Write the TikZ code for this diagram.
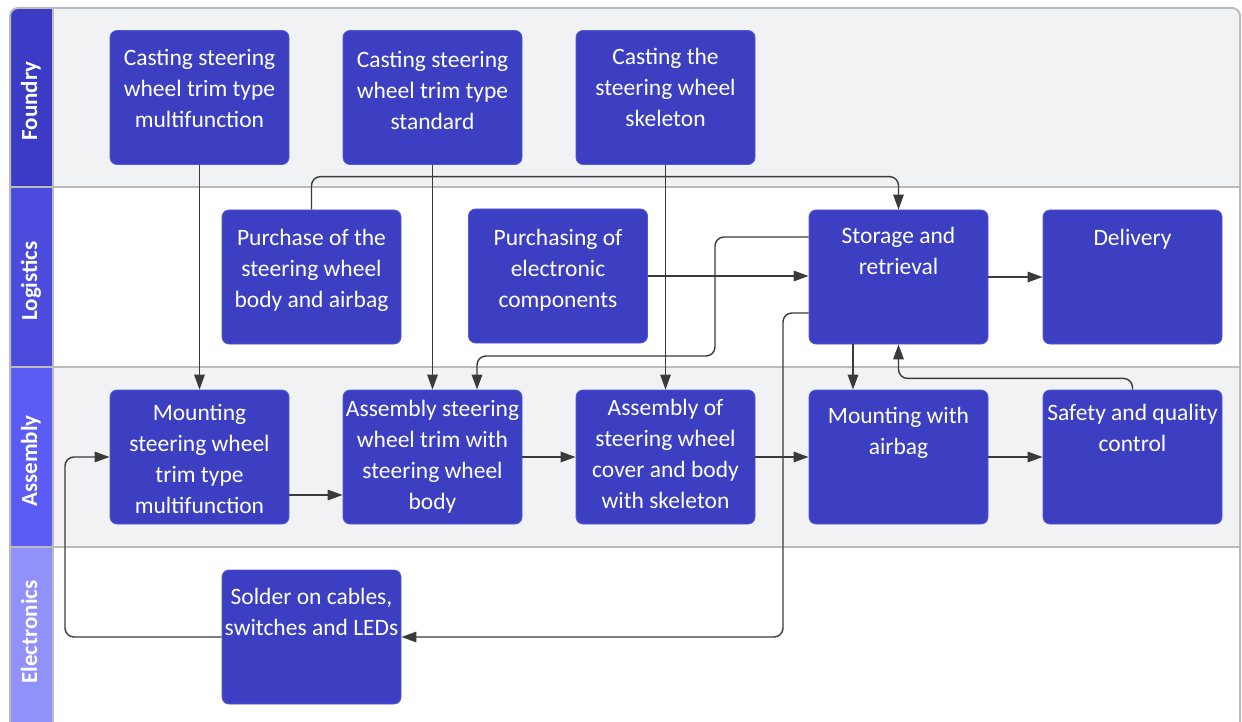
\documentclass[tikz,border=0pt]{standalone}
\usepackage{fontspec}
\setmainfont{Carlito}
\usetikzlibrary{arrows.meta}

\definecolor{stepfill}{HTML}{3C3FC1}
\definecolor{stepedge}{HTML}{5457D6}
\definecolor{lanegrey}{HTML}{F1F2F4}
\definecolor{rulegrey}{HTML}{BBBBBB}
\definecolor{flowgrey}{HTML}{3A3A3A}
\definecolor{hdFoundry}{HTML}{3B3BC6}
\definecolor{hdLogistics}{HTML}{4B4BDD}
\definecolor{hdAssembly}{HTML}{5B5BF6}
\definecolor{hdElectronics}{HTML}{9191FA}

% fixed height of the first text line, so every label starts at a known baseline
\newcommand\firstline{\rule{0pt}{19pt}}

\tikzset{
  stepbox/.style={draw=stepedge, line width=0.8pt, fill=stepfill, rounded corners=7pt,
    minimum width=179pt, minimum height=134pt, inner sep=0pt},
  steptext/.style={text=white, font=\fontsize{23.5}{31}\selectfont, align=center,
    inner sep=0pt, anchor=north, execute at begin node=\firstline},
  lanetitle/.style={text=white, font=\fontsize{23}{27}\selectfont\bfseries,
    rotate=90, inner sep=0pt, anchor=base},
  flow/.style={draw=flowgrey, line width=1.4pt, rounded corners=9pt,
    -{Triangle[length=15pt,width=10.5pt]}},
  divider/.style={draw=rulegrey, line width=2pt},
}

\begin{document}
\begin{tikzpicture}[x=1pt, y=-1pt]
\useasboundingbox (0,0) rectangle (1242,722);
\fill[white] (0,0) rectangle (1242,722);
\clip (0,0) rectangle (1242,722);

% lane backgrounds
\fill[lanegrey] (53,187) -- (53,8) [rounded corners=8pt] -- (1240,8) [sharp corners] -- (1240,187) -- cycle;
\fill[lanegrey] (53,367) rectangle (1240,547);

% lane header column
\fill[hdFoundry] (53,187) -- (10,187) [rounded corners=8pt] -- (10,8) [sharp corners] -- (53,8) -- cycle;
\fill[hdLogistics] (10,187) rectangle (53,367);
\fill[hdAssembly] (10,367) rectangle (53,547);
\fill[hdElectronics] (10,547) rectangle (53,730);

% frame and lane rules
\draw[divider] (10,730) [rounded corners=8pt] -- (10,8) -- (1240,8) [sharp corners] -- (1240,730);
\draw[divider] (10,187) -- (1240,187);
\draw[divider] (10,367) -- (1240,367);
\draw[divider] (10,547) -- (1240,547);
\draw[divider] (53,8) -- (53,730);

% lane titles
\node[lanetitle] (tf) at (37,101) {Foundry};
\node[lanetitle] (tl) at (37,281) {Logistics};
\node[lanetitle] (ta) at (37,461) {Assembly};
\node[lanetitle] (te) at (37,632) {Electronics};

% Foundry
\node[stepbox] (a1) at (199.5,97.5) {};
\node[stepbox] (a2) at (432.5,97.5) {};
\node[stepbox] (a3) at (665.5,97.5) {};
% Logistics
\node[stepbox] (b1) at (311.5,277) {};
\node[stepbox] (b2) at (558,276) {};
\node[stepbox] (b3) at (898.5,277) {};
\node[stepbox] (b4) at (1132.5,277) {};
% Assembly
\node[stepbox] (c1) at (199.5,457) {};
\node[stepbox] (c2) at (432.5,457) {};
\node[stepbox] (c3) at (665.5,457) {};
\node[stepbox] (c4) at (898.5,457) {};
\node[stepbox] (c5) at (1132.5,457) {};
% Electronics
\node[stepbox] (d1) at (311.5,637) {};

% step labels
\node[steptext] (a1t) at (199.5,49) {Casting steering\\wheel trim type\\multifunction};
\node[steptext] (a2t) at (432.5,51) {Casting steering\\wheel trim type\\standard};
\node[steptext] (a3t) at (665.5,48) {Casting the\\steering wheel\\skeleton};
\node[steptext] (b1t) at (311.5,229) {Purchase of the\\steering wheel\\body and airbag};
\node[steptext] (b2t) at (558,229) {Purchasing of\\electronic\\components};
\node[steptext] (b3t) at (898.5,227) {Storage and\\retrieval};
\node[steptext] (b4t) at (1132.5,226) {Delivery};
\node[steptext] (c1t) at (199.5,404) {Mounting\\steering wheel\\trim type\\multifunction};
\node[steptext] (c2t) at (432.5,400) {Assembly steering\\wheel trim with\\steering wheel\\body};
\node[steptext] (c3t) at (665.5,399) {Assembly of\\steering wheel\\cover and body\\with skeleton};
\node[steptext] (c4t) at (898.5,407) {Mounting with\\airbag};
\node[steptext] (c5t) at (1132.5,404) {Safety and quality\\control};
\node[steptext] (d1t) at (311.5,588) {Solder on cables,\\switches and LEDs};

% flows
\draw[flow] (a1.south) -- (c1.north);
\draw[flow] (a2.south) -- (c2.north);
\draw[flow] (a3.south) -- (c3.north);
\draw[flow] (b1.north) |- ([yshift=33pt]b3.north) -- (b3.north);
\draw[flow] (b2.east) -- (b2.east -| b3.west);
\draw[flow] ([yshift=40pt]b3.west) -| (715,356) -| ([xshift=44.5pt]c2.north);
\draw[flow] ([yshift=-36pt]b3.west) -| (783,637) -- (d1.east);
\draw[flow] (d1.west) -| (65,457) -- (c1.west);
\draw[flow] (b3.east) -- (b4.west);
\draw[flow] ([xshift=-45.5pt]b3.south) -- ([xshift=-45.5pt]c4.north);
\draw[flow] (c5.north) |- ([yshift=-34pt]b3.south) -- (b3.south);
\draw[flow] ([yshift=-38pt]c1.east) -- ([yshift=-38pt]c2.west);
\draw[flow] (c2.east) -- (c3.west);
\draw[flow] (c3.east) -- (c4.west);
\draw[flow] (c4.east) -- (c5.west);
\end{tikzpicture}
\end{document}
